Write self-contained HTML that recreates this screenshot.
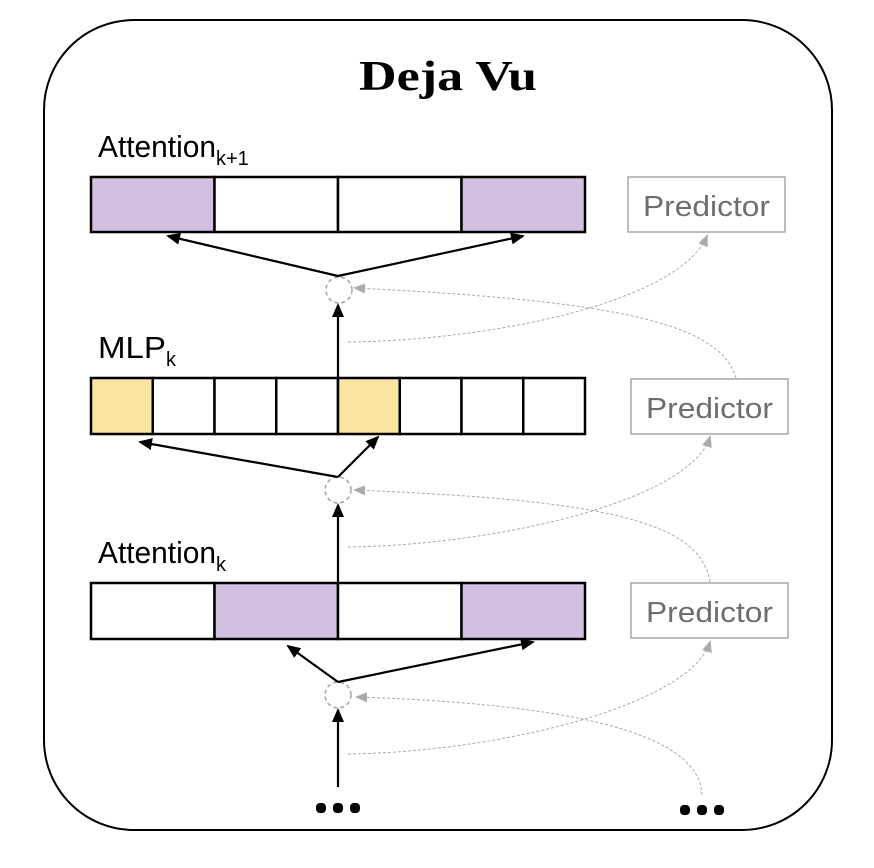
<!DOCTYPE html>
<html><head><style>
body{margin:0;background:#fff;}
svg{display:block;}
</style></head><body>
<svg width="874" height="868" viewBox="0 0 874 868" xmlns="http://www.w3.org/2000/svg">
<defs>
<marker id="b" markerWidth="14" markerHeight="12" refX="12" refY="6" orient="auto" markerUnits="userSpaceOnUse"><path d="M0,0 L14,6 L0,12 z" fill="#000"/></marker>
<marker id="g" markerWidth="12" markerHeight="10" refX="10" refY="5" orient="auto" markerUnits="userSpaceOnUse"><path d="M0,0 L12,5 L0,10 z" fill="#aaa"/></marker>
</defs>
<rect x="44" y="20" width="788" height="810" rx="90" fill="#fff" stroke="#000" stroke-width="2"/>
<text x="448" y="90" text-anchor="middle" font-family="Liberation Serif, serif" font-weight="bold" font-size="42" textLength="178" lengthAdjust="spacingAndGlyphs">Deja Vu</text>

<g font-family="Liberation Sans, sans-serif" font-size="31">
<text x="98" y="157"><tspan textLength="118" lengthAdjust="spacingAndGlyphs">Attention</tspan><tspan font-size="20" dy="8">k+1</tspan></text>
<text x="98" y="358"><tspan textLength="68" lengthAdjust="spacingAndGlyphs">MLP</tspan><tspan font-size="20" dy="8">k</tspan></text>
<text x="98" y="563"><tspan textLength="118" lengthAdjust="spacingAndGlyphs">Attention</tspan><tspan font-size="20" dy="8">k</tspan></text>
</g>

<g stroke="#000" stroke-width="2.5">
<rect x="91" y="177" width="123.5" height="55" fill="#d1c0e0"/>
<rect x="214.5" y="177" width="123.5" height="55" fill="#fff"/>
<rect x="338" y="177" width="123.5" height="55" fill="#fff"/>
<rect x="461.5" y="177" width="123.5" height="55" fill="#d1c0e0"/>

<rect x="91" y="378" width="61.75" height="56" fill="#f9e4a0"/>
<rect x="152.75" y="378" width="61.75" height="56" fill="#fff"/>
<rect x="214.5" y="378" width="61.75" height="56" fill="#fff"/>
<rect x="276.25" y="378" width="61.75" height="56" fill="#fff"/>
<rect x="338" y="378" width="61.75" height="56" fill="#f9e4a0"/>
<rect x="399.75" y="378" width="61.75" height="56" fill="#fff"/>
<rect x="461.5" y="378" width="61.75" height="56" fill="#fff"/>
<rect x="523.25" y="378" width="61.75" height="56" fill="#fff"/>

<rect x="91" y="583" width="123.5" height="56" fill="#fff"/>
<rect x="214.5" y="583" width="123.5" height="56" fill="#d1c0e0"/>
<rect x="338" y="583" width="123.5" height="56" fill="#fff"/>
<rect x="461.5" y="583" width="123.5" height="56" fill="#d1c0e0"/>
</g>

<g fill="#fff" stroke="#999" stroke-width="1.3">
<rect x="628" y="177" width="157" height="55"/>
<rect x="631" y="379" width="157" height="55"/>
<rect x="631" y="583" width="157" height="55"/>
</g>
<g font-family="Liberation Sans, sans-serif" font-size="29" fill="#6e6e6e">
<text x="643" y="216" textLength="127" lengthAdjust="spacingAndGlyphs">Predictor</text>
<text x="646" y="418" textLength="127" lengthAdjust="spacingAndGlyphs">Predictor</text>
<text x="646" y="622" textLength="127" lengthAdjust="spacingAndGlyphs">Predictor</text>
</g>

<g fill="none" stroke="#aaa" stroke-width="1.6" stroke-dasharray="4,3">
<circle cx="339" cy="290" r="13"/>
<circle cx="338" cy="490" r="13"/>
<circle cx="338" cy="695" r="13"/>
</g>

<g fill="none" stroke="#aaa" stroke-width="1" stroke-dasharray="3,2">
<path d="M348,342 C500,340 680,300 707,236" marker-end="url(#g)"/>
<path d="M736,378 C720,320 600,300 355,288" marker-end="url(#g)"/>
<path d="M348,547 C500,545 690,500 710,437" marker-end="url(#g)"/>
<path d="M710,582 C700,520 600,500 355,490" marker-end="url(#g)"/>
<path d="M348,754 C500,752 690,705 710,642" marker-end="url(#g)"/>
<path d="M702,795 C700,740 600,705 357,697" marker-end="url(#g)"/>
</g>

<g stroke="#000" stroke-width="2.2" fill="none">
<line x1="338" y1="276" x2="168" y2="236" marker-end="url(#b)"/>
<line x1="338" y1="276" x2="523" y2="236" marker-end="url(#b)"/>
<line x1="338" y1="378" x2="338" y2="305" marker-end="url(#b)"/>
<line x1="338" y1="477" x2="140" y2="442" marker-end="url(#b)"/>
<line x1="338" y1="477" x2="378" y2="437" marker-end="url(#b)"/>
<line x1="338" y1="583" x2="338" y2="505" marker-end="url(#b)"/>
<line x1="338" y1="682" x2="288" y2="646" marker-end="url(#b)"/>
<line x1="338" y1="682" x2="533" y2="642" marker-end="url(#b)"/>
<line x1="338" y1="787" x2="338" y2="710" marker-end="url(#b)"/>
</g>

<g fill="#000">
<rect x="316" y="803" width="10" height="10" rx="4"/>
<rect x="333" y="803" width="10" height="10" rx="4"/>
<rect x="350" y="803" width="10" height="10" rx="4"/>
<rect x="680" y="805" width="10" height="10" rx="4"/>
<rect x="697" y="805" width="10" height="10" rx="4"/>
<rect x="714" y="805" width="10" height="10" rx="4"/>
</g>
</svg>
</body></html>
